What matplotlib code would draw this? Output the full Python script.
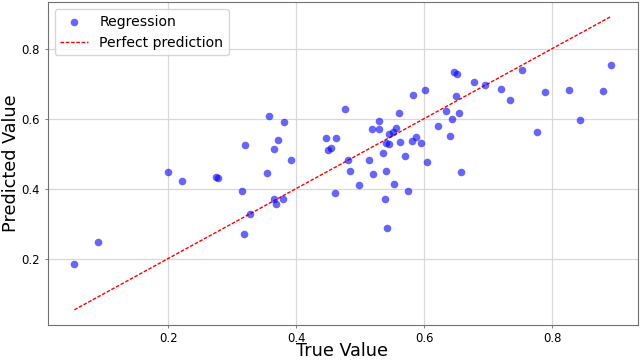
import matplotlib
matplotlib.use("Agg")
import matplotlib.pyplot as plt
import numpy as np

y_true = [0.0535, 0.0898, 0.2000, 0.2218, 0.2748, 0.2779, 0.3154, 0.3189, 0.3272, 0.3205,
          0.3553, 0.3584, 0.3652, 0.3652, 0.3684, 0.3715, 0.3793, 0.3818, 0.3917, 0.4472,
          0.4499, 0.4546, 0.4603, 0.4628, 0.4769, 0.4815, 0.4842, 0.4977, 0.5138, 0.5180,
          0.5200, 0.5294, 0.5294, 0.5361, 0.5383, 0.5398, 0.5408, 0.5414, 0.5445, 0.5450,
          0.5507, 0.5523, 0.5554, 0.5601, 0.5617, 0.5694, 0.5746, 0.5808, 0.5819, 0.5871,
          0.5944, 0.6011, 0.6047, 0.6224, 0.6338, 0.6405, 0.6432, 0.6468, 0.6499, 0.6514,
          0.6546, 0.6577, 0.6779, 0.6957, 0.7196, 0.7347, 0.7523, 0.7768, 0.7882, 0.8267,
          0.8432, 0.8801, 0.8915]
y_pred = [0.1846, 0.2472, 0.4462, 0.4226, 0.4320, 0.4303, 0.3942, 0.2699, 0.3268, 0.5258,
          0.4434, 0.6074, 0.5145, 0.3715, 0.3552, 0.5384, 0.3706, 0.5912, 0.4832, 0.5457,
          0.5099, 0.5156, 0.3865, 0.5440, 0.6282, 0.4832, 0.4511, 0.4113, 0.4815, 0.5713,
          0.4405, 0.5932, 0.5713, 0.5014, 0.3706, 0.5315, 0.4491, 0.2862, 0.5270, 0.5571,
          0.5611, 0.4141, 0.5725, 0.6160, 0.5327, 0.4929, 0.3922, 0.5372, 0.6672, 0.5469,
          0.5298, 0.6814, 0.4767, 0.5790, 0.6208, 0.5506, 0.5989, 0.7334, 0.6652, 0.7269,
          0.6168, 0.4462, 0.7041, 0.6956, 0.6842, 0.6538, 0.7391, 0.5628, 0.6757, 0.6822,
          0.5952, 0.6794, 0.7525]

x_label = "True Value"
y_label = "Predicted Value"
scatter_label = "Regression"
line_label = "Perfect prediction"

fig = plt.figure(figsize=(6.4, 3.61), dpi=100)
ax = fig.add_axes([47.5 / 640, 1 - 324.5 / 361, 590 / 640, 322.5 / 361])

ax.scatter(y_true, y_pred, s=30, color="blue", alpha=0.6, linewidths=0, label=scatter_label, zorder=3)
lo, hi = min(y_true), max(y_true)
ax.plot([lo, hi], [lo, hi], color="red", linestyle=(0, (2.6, 1.2)), linewidth=1.0,
        label=line_label, zorder=2)

ax.set_xlabel(x_label, fontsize=12.7, labelpad=-2)
ax.set_ylabel(y_label, fontsize=12.7, labelpad=1)
ax.set_xticks([0.2, 0.4, 0.6, 0.8])
ax.set_yticks([0.2, 0.4, 0.6, 0.8])
ax.tick_params(labelsize=8.4, length=2.5, width=0.6, color="#666666", pad=3)
ax.grid(True, color="#d8d8d8", linewidth=0.9)
ax.set_axisbelow(True)
for sp in ax.spines.values():
    sp.set_color("#707070")
    sp.set_linewidth(0.8)
ax.legend(loc="upper left", fontsize=10.1)

fig.savefig("out.png", dpi=100)
